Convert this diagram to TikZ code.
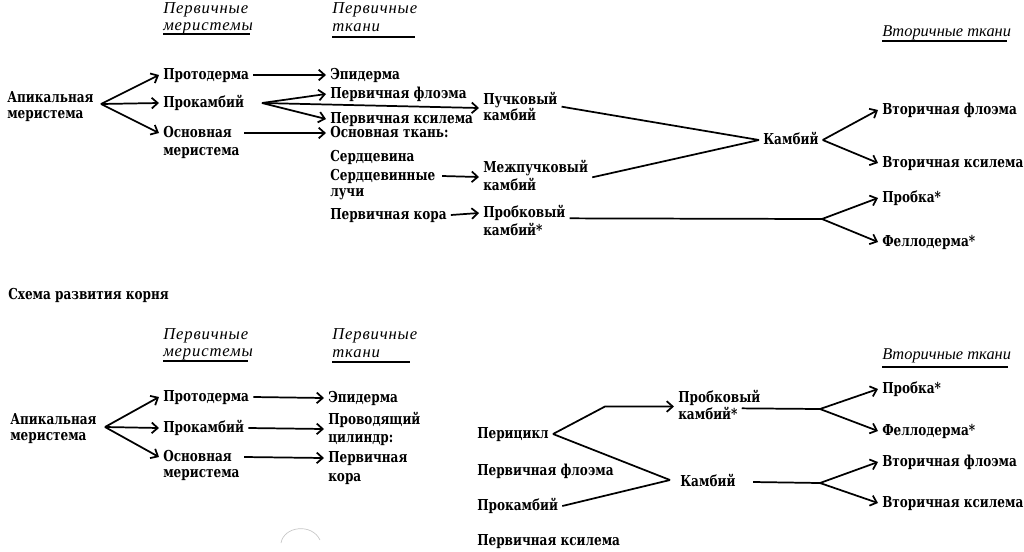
\documentclass[tikz,border=0pt]{standalone}
\usepackage{fontspec}
\setmainfont{DejaVu Serif}[FakeStretch=0.8]
\newfontfamily\hdrfont{Liberation Serif}[LetterSpace=5]
\newfontfamily\hdrfontB{Liberation Serif}
\usetikzlibrary{arrows.meta,calc}
\tikzset{
  lbl/.style={anchor=west, inner xsep=3pt, inner ysep=0pt, text height=7.5pt, text depth=0.5pt,
              font=\fontsize{11.3}{13}\selectfont\bfseries},
  hdr/.style={anchor=west, inner sep=0pt, text height=7.5pt, text depth=0.5pt,
              font=\fontsize{12.5}{13}\selectfont\hdrfont\itshape},
  hdrB/.style={hdr, font=\fontsize{12.3}{13}\selectfont\hdrfontB\itshape},
  arr/.style={line width=1.3pt, -{Straight Barb[length=4.5pt,width=8pt]}},
  ln/.style={line width=1.3pt},
  ul/.style={line width=1pt},
}
\begin{document}
\begin{tikzpicture}[x=0.75pt,y=-0.75pt]
\useasboundingbox (0,0) rectangle (1024,551);

% ---------- top scheme: headings ----------
\node[hdr] (h1a) at (163,9) {Первичные};
\node[hdr] (h1b) at (163,26) {меристемы};
\draw[ul] (163,34) -- (250,34);
\node[hdr] (h2a) at (332,9) {Первичные};
\node[hdr] (h2b) at (332,27) {ткани};
\draw[ul] (332,37) -- (415,37);
\node[hdrB] (h3) at (882,32) {Вторичные ткани};
\draw[ul] (882,41) -- (1007,41);

% ---------- top scheme: nodes ----------
\node[lbl] (apik1) at (3,98) {Апикальная};
\node[lbl] (apik2) at (3,114) {меристема};
\coordinate (A1) at (101,104);

\node[lbl] (proto) at (159,75) {Протодерма};
\node[lbl] (prok) at (159,103) {Прокамбий};
\node[lbl] (osn1) at (159,133) {Основная};
\node[lbl] (osn1b) at (159,151) {меристема};

\node[lbl] (epid) at (326,75) {Эпидерма};
\node[lbl] (fl) at (326,94) {Первичная флоэма};
\node[lbl] (ks) at (326,119) {Первичная ксилема};
\node[lbl] (osnt) at (326,133) {Основная ткань:};
\node[lbl] (serd) at (326,157) {Сердцевина};
\node[lbl] (serd1) at (326,176) {Сердцевинные};
\node[lbl] (serd2) at (326,192) {лучи};
\node[lbl] (kora) at (326,215) {Первичная кора};
\coordinate (PK) at (262,103);

\node[lbl] (puch1) at (479,100) {Пучковый};
\node[lbl] (puch2) at (479,116) {камбий};
\node[lbl] (mezh1) at (479,168) {Межпучковый};
\node[lbl] (mezh2) at (479,186) {камбий};
\node[lbl] (prob1) at (479,213) {Пробковый};
\node[lbl] (prob2) at (479,231) {камбий*};

\node[lbl] (camb) at (759,140) {Камбий};
\coordinate (PV) at (822,219);

\node[lbl] (vf) at (878,110) {Вторичная флоэма};
\node[lbl] (vx) at (878,163) {Вторичная ксилема};
\node[lbl] (probka) at (878,198) {Пробка*};
\node[lbl] (fell) at (878,242) {Феллодерма*};

% ---------- top scheme: connectors ----------
\draw[arr] (A1) -- (proto.west);
\draw[arr] (A1) -- (prok.west);
\draw[arr] (A1) -- (osn1.west);
\draw[arr] (proto.east) -- (epid.west);
\draw[arr] (PK) -- (fl.west);
\draw[arr] (PK) -- (ks.west);
\draw[arr] (PK) -- ($(puch1.west)!0.5!(puch2.west)$);
\draw[arr] ([xshift=6pt]osn1.east) -- (osnt.west);
\draw[arr] ([xshift=2pt]serd1.east) -- ($(mezh1.west)!0.5!(mezh2.west)$);
\draw[arr] (kora.east) -- (prob1.west);
\draw[ln] ([yshift=-5pt]puch1.east) -- (camb.west);
\draw[ln] ([yshift=-7pt]mezh1.east) -- (camb.west);
\draw[arr] (camb.east) -- (vf.west);
\draw[arr] (camb.east) -- (vx.west);
\draw[ln] ([yshift=-4pt]prob1.east) -- (PV);
\draw[arr] (PV) -- (probka.west);
\draw[arr] (PV) -- (fell.west);

% ---------- title ----------
\node[lbl] (title) at (4,295) {Схема развития корня};

% ---------- bottom scheme: headings ----------
\node[hdr] (h4a) at (163,335) {Первичные};
\node[hdr] (h4b) at (163,352) {меристемы};
\draw[ul] (163,361) -- (248,361);
\node[hdr] (h5a) at (332,335) {Первичные};
\node[hdr] (h5b) at (332,353) {ткани};
\draw[ul] (332,362) -- (410,362);
\node[hdrB] (h6) at (882,355) {Вторичные ткани};
\draw[ul] (882,367) -- (1008,367);

% ---------- bottom scheme: nodes ----------
\node[lbl] (bapik1) at (6,420) {Апикальная};
\node[lbl] (bapik2) at (6,436) {меристема};
\coordinate (B1) at (105,427);

\node[lbl] (bproto) at (159,397) {Протодерма};
\node[lbl] (bprok) at (159,428) {Прокамбий};
\node[lbl] (bosn1) at (159,457) {Основная};
\node[lbl] (bosn2) at (159,473) {меристема};

\node[lbl] (bepid) at (324,398) {Эпидерма};
\node[lbl] (bprov1) at (324,420) {Проводящий};
\node[lbl] (bprov2) at (324,438) {цилиндр:};
\node[lbl] (bperv1) at (324,458) {Первичная};
\node[lbl] (bperv2) at (324,477) {кора};

\node[lbl] (peri) at (473,434) {Перицикл};
\node[lbl] (bfl) at (473,471) {Первичная флоэма};
\node[lbl] (bprk) at (473,506) {Прокамбий};
\node[lbl] (bks) at (473,541) {Первичная ксилема};
\coordinate (PC) at (605,406.5);
\coordinate (BKV) at (670,480);

\node[lbl] (bprob1) at (674,398) {Пробковый};
\node[lbl] (bprob2) at (674,415) {камбий*};
\node[lbl] (bcamb) at (676,482) {Камбий};
\coordinate (BV1) at (820,409);
\coordinate (BV2) at (820,483);

\node[lbl] (bprobka) at (878,389) {Пробка*};
\node[lbl] (bfell) at (878,431) {Феллодерма*};
\node[lbl] (bvf) at (878,462) {Вторичная флоэма};
\node[lbl] (bvx) at (878,503) {Вторичная ксилема};

% ---------- bottom scheme: connectors ----------
\draw[arr] (B1) -- (bproto.west);
\draw[arr] (B1) -- (bprok.west);
\draw[arr] (B1) -- (bosn1.west);
\draw[arr] (bproto.east) -- (bepid.west);
\draw[arr] (bprok.east) -- ($(bprov1.west)!0.5!(bprov2.west)$);
\draw[arr] ([xshift=6pt]bosn1.east) -- (bperv1.west);
\draw[arr] (peri.east) -- (PC) -- ($(bprob1.west)!0.5!(bprob2.west)$);
\draw[ln] (peri.east) -- (BKV);
\draw[ln] (bprk.east) -- (BKV);
\draw[ln] ([yshift=5pt]bprob2.east) -- (BV1);
\draw[arr] (BV1) -- (bprobka.west);
\draw[arr] (BV1) -- (bfell.west);
\draw[ln] ([xshift=10pt]bcamb.east) -- (BV2);
\draw[arr] (BV2) -- (bvf.west);
\draw[arr] (BV2) -- (bvx.west);

% faint scan mark
\draw[gray!45, line width=0.5pt] (281,543) .. controls (284,526) and (312,523) .. (320,540);
\end{tikzpicture}
\end{document}
